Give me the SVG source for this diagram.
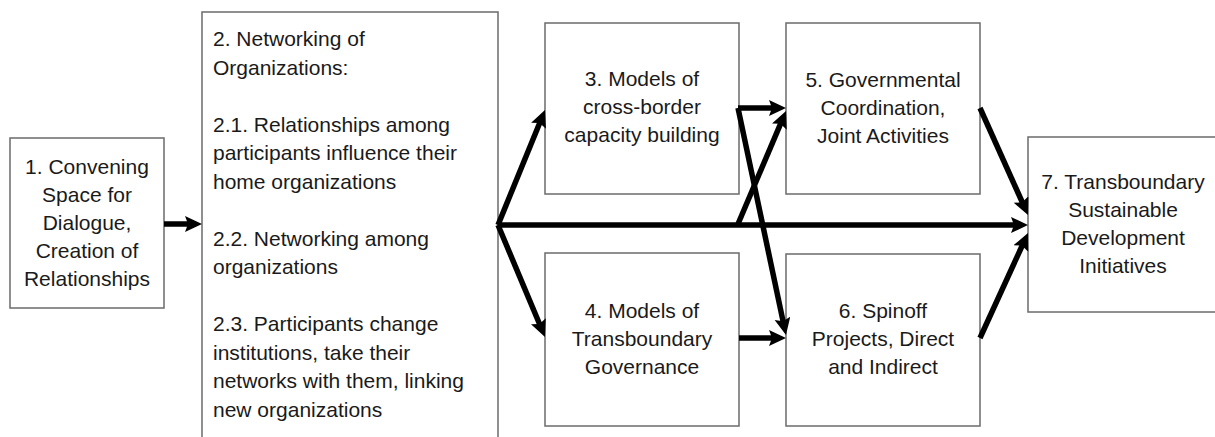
<svg xmlns="http://www.w3.org/2000/svg" width="1215" height="437" viewBox="0 0 1215 437">
  <style>
    .box { fill: #ffffff; stroke: #6b6b6b; stroke-width: 1.5; }
    .lbl { font-family: "Liberation Sans", Arial, sans-serif; font-size: 21px; fill: #1a1a1a; }
    .mid { text-anchor: middle; }
    .conn { stroke: #000000; stroke-width: 5.5; fill: none; marker-end: url(#head); }
  </style>
  <defs>
    <!-- barbed arrowhead; tip sits 11px past the line end -->
    <marker id="head" markerUnits="userSpaceOnUse" markerWidth="20" markerHeight="18" refX="6" refY="8" orient="auto">
      <path d="M0,0 L17,8 L0,16 L3,8 z" fill="#000000"/>
    </marker>
  </defs>
  <rect width="1215" height="437" fill="#ffffff"/>

  <g id="node1">
    <rect class="box" x="10" y="138" width="154" height="170"/>
    <text class="lbl mid" x="87" y="174">1. Convening</text>
    <text class="lbl mid" x="87" y="202">Space for</text>
    <text class="lbl mid" x="87" y="230">Dialogue,</text>
    <text class="lbl mid" x="87" y="258">Creation of</text>
    <text class="lbl mid" x="87" y="286">Relationships</text>
  </g>

  <g id="node2">
    <rect class="box" x="202" y="12" width="296" height="440"/>
    <text class="lbl" x="213" y="46">2. Networking of</text>
    <text class="lbl" x="213" y="74.5">Organizations:</text>
    <text class="lbl" x="213" y="131.5">2.1. Relationships among</text>
    <text class="lbl" x="213" y="160">participants influence their</text>
    <text class="lbl" x="213" y="188.5">home organizations</text>
    <text class="lbl" x="213" y="245.5">2.2. Networking among</text>
    <text class="lbl" x="213" y="274">organizations</text>
    <text class="lbl" x="213" y="331">2.3. Participants change</text>
    <text class="lbl" x="213" y="359.5">institutions, take their</text>
    <text class="lbl" x="213" y="388">networks with them, linking</text>
    <text class="lbl" x="213" y="416.5">new organizations</text>
  </g>

  <g id="node3">
    <rect class="box" x="545" y="23" width="194" height="171"/>
    <text class="lbl mid" x="642" y="86">3. Models of</text>
    <text class="lbl mid" x="642" y="114">cross-border</text>
    <text class="lbl mid" x="642" y="142">capacity building</text>
  </g>

  <g id="node4">
    <rect class="box" x="545" y="253" width="194" height="173"/>
    <text class="lbl mid" x="642" y="318">4. Models of</text>
    <text class="lbl mid" x="642" y="346">Transboundary</text>
    <text class="lbl mid" x="642" y="374">Governance</text>
  </g>

  <g id="node5">
    <rect class="box" x="786" y="23" width="194" height="171"/>
    <text class="lbl mid" x="883" y="87">5. Governmental</text>
    <text class="lbl mid" x="883" y="115">Coordination,</text>
    <text class="lbl mid" x="883" y="143">Joint Activities</text>
  </g>

  <g id="node6">
    <rect class="box" x="786" y="254" width="194" height="172"/>
    <text class="lbl mid" x="883" y="318">6. Spinoff</text>
    <text class="lbl mid" x="883" y="346">Projects, Direct</text>
    <text class="lbl mid" x="883" y="374">and Indirect</text>
  </g>

  <g id="node7">
    <rect class="box" x="1028" y="137" width="200" height="175"/>
    <text class="lbl mid" x="1123" y="189">7. Transboundary</text>
    <text class="lbl mid" x="1123" y="217">Sustainable</text>
    <text class="lbl mid" x="1123" y="245">Development</text>
    <text class="lbl mid" x="1123" y="273">Initiatives</text>
  </g>

  <g id="connectors">
    <line class="conn" x1="164" y1="224" x2="191" y2="224"/>
    <line class="conn" x1="498" y1="225" x2="540.8" y2="120.2"/>
    <line class="conn" x1="498" y1="225" x2="540.7" y2="326.8"/>
    <line class="conn" x1="498" y1="225" x2="1017" y2="225"/>
    <line class="conn" x1="738" y1="108" x2="775" y2="108"/>
    <line class="conn" x1="738" y1="108" x2="783.7" y2="324.2"/>
    <line class="conn" x1="738" y1="224" x2="781.7" y2="121.1"/>
    <line class="conn" x1="739" y1="338" x2="775" y2="338"/>
    <line class="conn" x1="980" y1="108" x2="1023.5" y2="205"/>
    <line class="conn" x1="980" y1="338" x2="1023.4" y2="243"/>
  </g>
</svg>
